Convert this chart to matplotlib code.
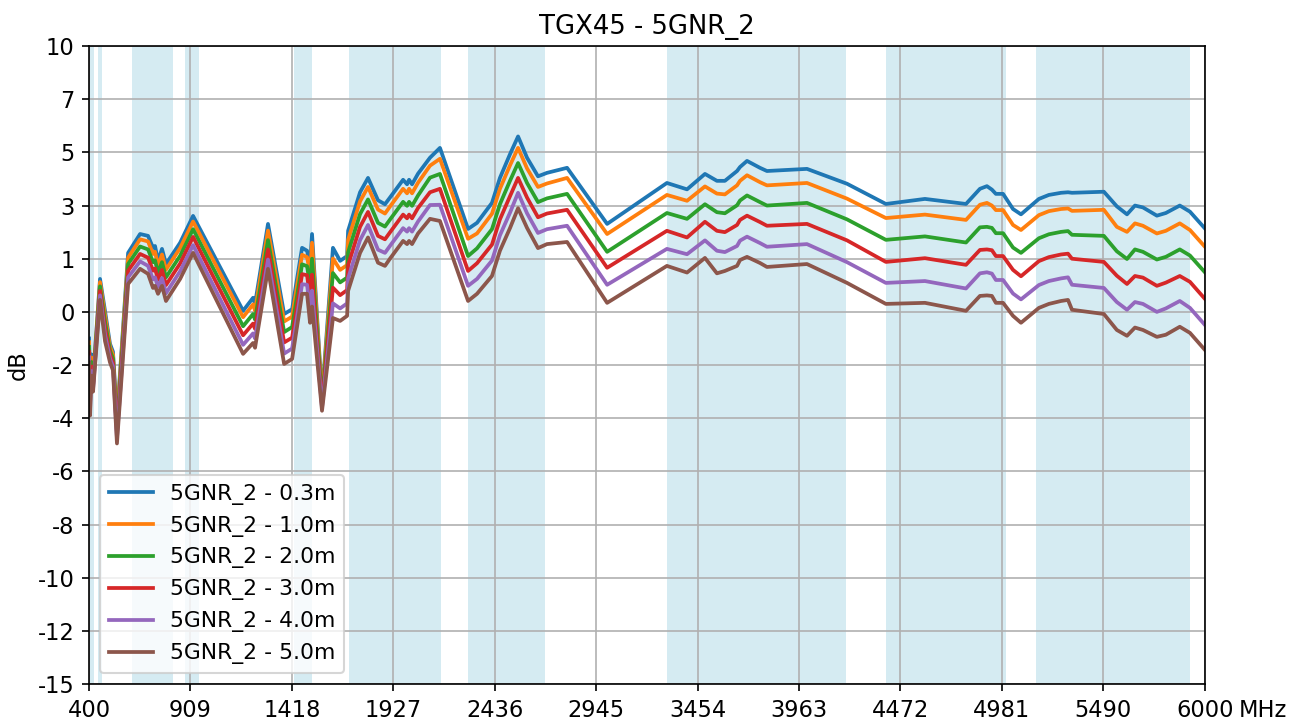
import matplotlib
matplotlib.use("Agg")
import matplotlib.pyplot as plt

# frequency points (MHz)
freq = [400, 405, 412, 420, 455, 480, 505, 520, 540, 596, 656, 696, 721, 731, 746, 766, 786,
        857, 922, 1173, 1223, 1233, 1298, 1379, 1419, 1469, 1494, 1509, 1519, 1569, 1624,
        1660, 1695, 1700, 1760, 1800, 1850, 1885, 1910, 1976, 1996, 2006, 2021, 2051, 2111,
        2161, 2302, 2347, 2422, 2462, 2513, 2553, 2598, 2653, 2698, 2799, 3000, 3300, 3401,
        3491, 3551, 3591, 3652, 3667, 3702, 3767, 3802, 4003, 4204, 4399, 4595, 4801, 4871,
        4906, 4931, 4951, 4987, 5037, 5077, 5167, 5217, 5278, 5313, 5333, 5493, 5558, 5609,
        5649, 5689, 5759, 5804, 5874, 5925, 6000]

gain_03 = [-1.0, -2.8, -1.6, -2.5, 1.24, 0.04, -1.2, -1.5, -4.0, 2.22, 2.93, 2.86, 2.41, 2.48, 1.92, 2.37, 1.8,
           2.6, 3.61, 0.04, 0.53, 0.3, 3.31, -0.08, 0.1, 2.41, 2.3, 1.73, 2.93, -3.2, 2.41,
           1.92, 2.1, 3.05, 4.5, 5.04, 4.2, 4.05, 4.3, 4.97, 4.8, 4.97, 4.8, 5.2, 5.8,
           6.17, 3.12, 3.35, 4.1, 5.04, 5.94, 6.6, 5.8, 5.1, 5.23, 5.42, 3.31, 4.85, 4.61,
           5.19, 4.93, 4.93, 5.3, 5.45, 5.68, 5.42, 5.3, 5.38, 4.82, 4.06, 4.25, 4.06, 4.63,
           4.73, 4.6, 4.44, 4.44, 3.87, 3.67, 4.25, 4.4, 4.48, 4.5, 4.48, 4.52, 3.97, 3.67,
           4.0, 3.93, 3.62, 3.72, 4.0, 3.77, 3.14]

gain_10 = [-1.14, -2.97, -1.72, -2.58, 1.12, -0.13, -1.31, -1.61, -4.14, 2.04, 2.73, 2.65, 2.18, 2.26, 1.73, 2.16, 1.59,
           2.4, 3.4, -0.2, 0.28, 0.05, 3.06, -0.36, -0.18, 2.15, 2.06, 1.45, 2.6, -3.28, 2.01,
           1.58, 1.76, 2.71, 4.16, 4.7, 3.85, 3.7, 3.96, 4.63, 4.46, 4.63, 4.46, 4.86, 5.5,
           5.76, 2.75, 2.95, 3.69, 4.63, 5.52, 6.17, 5.4, 4.7, 4.83, 5.04, 2.93, 4.4, 4.18,
           4.72, 4.45, 4.42, 4.76, 4.93, 5.14, 4.88, 4.76, 4.85, 4.26, 3.53, 3.66, 3.46, 4.03,
           4.1, 4.0, 3.83, 3.83, 3.27, 3.08, 3.64, 3.79, 3.87, 3.89, 3.8, 3.84, 3.2, 3.01,
           3.33, 3.24, 2.95, 3.05, 3.33, 3.08, 2.45]

gain_20 = [-1.32, -3.2, -1.89, -2.68, 0.96, -0.37, -1.45, -1.75, -4.34, 1.8, 2.46, 2.35, 1.87, 1.94, 1.47, 1.87, 1.3,
           2.11, 3.11, -0.54, -0.08, -0.29, 2.7, -0.76, -0.57, 1.79, 1.72, 1.0, 2.0, -3.39, 1.46,
           1.11, 1.29, 2.24, 3.68, 4.23, 3.35, 3.21, 3.47, 4.14, 3.99, 4.14, 3.99, 4.38, 5.05,
           5.19, 2.1, 2.39, 3.11, 4.05, 4.94, 5.6, 4.85, 4.13, 4.27, 4.44, 2.26, 3.72, 3.5,
           4.05, 3.75, 3.71, 4.01, 4.19, 4.38, 4.13, 4.0, 4.1, 3.48, 2.71, 2.84, 2.61, 3.18,
           3.2, 3.16, 2.96, 2.96, 2.42, 2.22, 2.77, 2.92, 3.01, 3.04, 2.9, 2.86, 2.28, 1.99,
           2.35, 2.26, 1.97, 2.07, 2.35, 2.12, 1.49]

gain_30 = [-1.51, -3.43, -2.06, -2.79, 0.79, -0.61, -1.6, -1.9, -4.54, 1.55, 2.18, 2.04, 1.55, 1.63, 1.21, 1.58, 1.01,
           1.82, 2.82, -0.88, -0.44, -0.64, 2.35, -1.15, -0.97, 1.42, 1.38, 0.55, 1.4, -3.5, 0.91,
           0.63, 0.82, 1.76, 3.2, 3.76, 2.86, 2.73, 2.99, 3.66, 3.52, 3.66, 3.52, 3.91, 4.5,
           4.63, 1.54, 1.83, 2.53, 3.48, 4.36, 5.04, 4.3, 3.56, 3.7, 3.84, 1.66, 3.05, 2.8,
           3.39, 3.05, 3.0, 3.27, 3.46, 3.62, 3.38, 3.24, 3.31, 2.69, 1.88, 2.02, 1.77, 2.33,
           2.35, 2.32, 2.1, 2.1, 1.58, 1.34, 1.91, 2.06, 2.16, 2.19, 2.0, 1.88, 1.36, 1.05,
           1.35, 1.29, 0.98, 1.1, 1.35, 1.13, 0.49]

gain_40 = [-1.71, -3.67, -2.23, -2.9, 0.62, -0.86, -1.75, -2.05, -4.75, 1.3, 1.9, 1.73, 1.22, 1.3, 0.94, 1.27, 0.7,
           1.53, 2.51, -1.24, -0.81, -1.0, 1.97, -1.57, -1.38, 1.04, 1.02, 0.1, 0.8, -3.61, 0.32,
           0.13, 0.32, 1.26, 2.7, 3.27, 2.34, 2.22, 2.48, 3.15, 3.02, 3.15, 3.02, 3.4, 4.02,
           4.03, 0.98, 1.24, 1.93, 2.88, 3.74, 4.48, 3.71, 2.97, 3.11, 3.24, 1.02, 2.37, 2.17,
           2.69, 2.3, 2.25, 2.48, 2.68, 2.83, 2.59, 2.45, 2.55, 1.87, 1.09, 1.16, 0.88, 1.45,
           1.49, 1.44, 1.2, 1.2, 0.69, 0.47, 1.01, 1.16, 1.26, 1.3, 1.02, 0.9, 0.37, 0.08,
           0.37, 0.3, 0.0, 0.13, 0.41, 0.15, -0.49]

gain_50 = [-1.9, -3.9, -2.4, -3.0, 0.45, -1.1, -1.9, -2.2, -4.95, 1.05, 1.62, 1.43, 0.9, 0.98, 0.68, 0.98, 0.41,
           1.24, 2.22, -1.58, -1.17, -1.35, 1.62, -1.96, -1.77, 0.68, 0.68, -0.41, 0.2, -3.72, -0.23,
           -0.34, -0.15, 0.79, 2.22, 2.8, 1.85, 1.73, 2.0, 2.67, 2.55, 2.67, 2.55, 2.95, 3.5,
           3.42, 0.41, 0.68, 1.35, 2.3, 3.16, 3.9, 3.16, 2.4, 2.55, 2.63, 0.34, 1.73, 1.48,
           2.03, 1.45, 1.54, 1.73, 1.95, 2.07, 1.84, 1.69, 1.8, 1.09, 0.3, 0.34, 0.04, 0.6,
           0.62, 0.6, 0.34, 0.34, -0.15, -0.41, 0.15, 0.3, 0.41, 0.45, 0.08, -0.08, -0.68, -0.9,
           -0.59, -0.68, -0.94, -0.86, -0.56, -0.79, -1.43]

series = [gain_03, gain_10, gain_20, gain_30, gain_40, gain_50]
labels = ["5GNR_2 - 0.3m", "5GNR_2 - 1.0m", "5GNR_2 - 2.0m",
          "5GNR_2 - 3.0m", "5GNR_2 - 4.0m", "5GNR_2 - 5.0m"]

# 5G NR bands (MHz)
bands = [(400, 425), (445, 467), (617, 821), (880, 952), (1427, 1518), (1705, 2165),
         (2300, 2690), (3300, 4200), (4400, 5000), (5150, 5925)]

xticks = [400, 909, 1418, 1927, 2436, 2945, 3454, 3963, 4472, 4981, 5490, 6000]
xtick_labels = ["400", "909", "1418", "1927", "2436", "2945", "3454", "3963", "4472", "4981", "5490", "6000"]
yticks = [-14, -12, -10, -8, -6, -4, -2, 0, 2, 4, 6, 8, 10]
ytick_labels = ["-15", "-12", "-10", "-8", "-6", "-4", "-2", "0", "1", "3", "5", "7", "10"]

fig, ax = plt.subplots(figsize=(1304 / 150, 720 / 150), dpi=150)
fig.subplots_adjust(left=0.0683, right=0.924, top=0.936, bottom=0.05)

for lo, hi in bands:
    ax.axvspan(lo, hi, color="lightblue", alpha=0.5, linewidth=0)

for vals, lab in zip(series, labels):
    ax.plot(freq, vals, label=lab, linewidth=1.8)

ax.set_xlim(400, 6000)
ax.set_ylim(-14, 10)
ax.set_xticks(xticks)
ax.set_xticklabels(xtick_labels)
ax.set_yticks(yticks)
ax.set_yticklabels(ytick_labels)
ax.tick_params(labelsize=10.8)
ax.grid(True)
ax.set_ylabel("dB", fontsize=10.8)
ax.set_title("TGX45 - 5GNR_2", fontsize=12.4)
ax.text(1.03, -0.0235, "MHz", transform=ax.transAxes, ha="left", va="top", fontsize=10.8)
ax.legend(loc="lower left", fontsize=10.5)

plt.savefig("out.png", dpi=150)
